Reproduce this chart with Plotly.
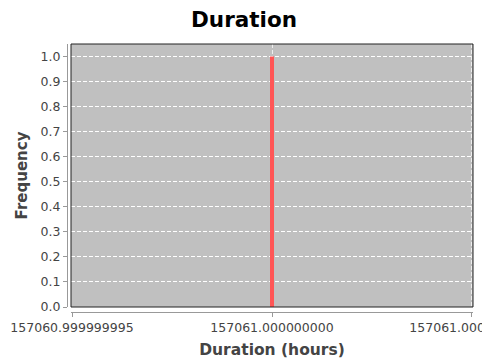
import plotly.graph_objects as go

# histogram data: a single duration value observed once
durations = [157061.0]
frequency = [1.0]

x_tickvals = [157060.999999995, 157061.0, 157061.000000005]
x_ticktext = ['157060.999999995', '157061.000000000', '157061.000000005']
y_tickvals = [0.0, 0.1, 0.2, 0.3, 0.4, 0.5, 0.6, 0.7, 0.8, 0.9, 1.0]
y_ticktext = ['0.0', '0.1', '0.2', '0.3', '0.4', '0.5', '0.6', '0.7', '0.8', '0.9', '1.0']

font = 'DejaVu Sans'
text_grey = '#444444'

# the page body has an 8px margin, so the figure is drawn 8px smaller
W, H = 482, 354

# a hair of padding so plotly keeps the end ticks (range is ~1 ulp wide)
pad = 3e-11

fig = go.Figure(data=[go.Bar(x=durations,
                             y=frequency,
                             width=[7.5e-11],
                             marker=dict(color='#FF5555', line=dict(width=0)),
                             hoverinfo='x+y')])

fig.update_layout(
    width=W, height=H,
    margin=dict(l=59, r=17, t=36, b=50, autoexpand=False),
    paper_bgcolor='white',
    plot_bgcolor='#C0C0C0',
    showlegend=False,
    title=dict(text='<b>Duration</b>', x=(244 - 8) / W, xanchor='center',
               y=1 - 11/H, yref='container', yanchor='middle',
               font=dict(family=font, size=21.5, color='black')),
    xaxis=dict(domain=[4/406, 1],
               range=[x_tickvals[0] - pad, x_tickvals[-1] + pad],
               anchor='free', position=0, automargin=False,
               tickmode='array', tickvals=x_tickvals, ticktext=x_ticktext,
               ticklabeloverflow='allow',
               showgrid=True, gridcolor='#EEEEEE', griddash='4px,2px', gridwidth=1,
               zeroline=False,
               showline=True, linecolor='#999999', linewidth=1,
               ticks='outside', ticklen=4, tickcolor='#999999',
               tickfont=dict(family=font, size=12.5, color=text_grey),
               title=dict(text='<b>Duration (hours)</b>', standoff=10,
                          font=dict(family=font, size=15.5, color=text_grey))),
    yaxis=dict(domain=[5/268, 1],
               range=[0, 1.05],
               anchor='free', position=0, automargin=False,
               tickmode='array', tickvals=y_tickvals, ticktext=y_ticktext,
               showgrid=True, gridcolor='white', griddash='4px,2px', gridwidth=1,
               zeroline=False,
               showline=True, linecolor='#999999', linewidth=1,
               ticks='outside', ticklen=4, tickcolor='#999999',
               tickfont=dict(family=font, size=12.5, color=text_grey),
               title=dict(text='<b>Frequency</b>', standoff=8,
                          font=dict(family=font, size=15, color=text_grey))),
)

# black border round the plot area
fig.add_shape(type='rect', xref='x domain', yref='y domain',
              x0=0, x1=1, y0=0, y1=1,
              line=dict(color='#222222', width=1), layer='above')

fig.write_html("out.html")
